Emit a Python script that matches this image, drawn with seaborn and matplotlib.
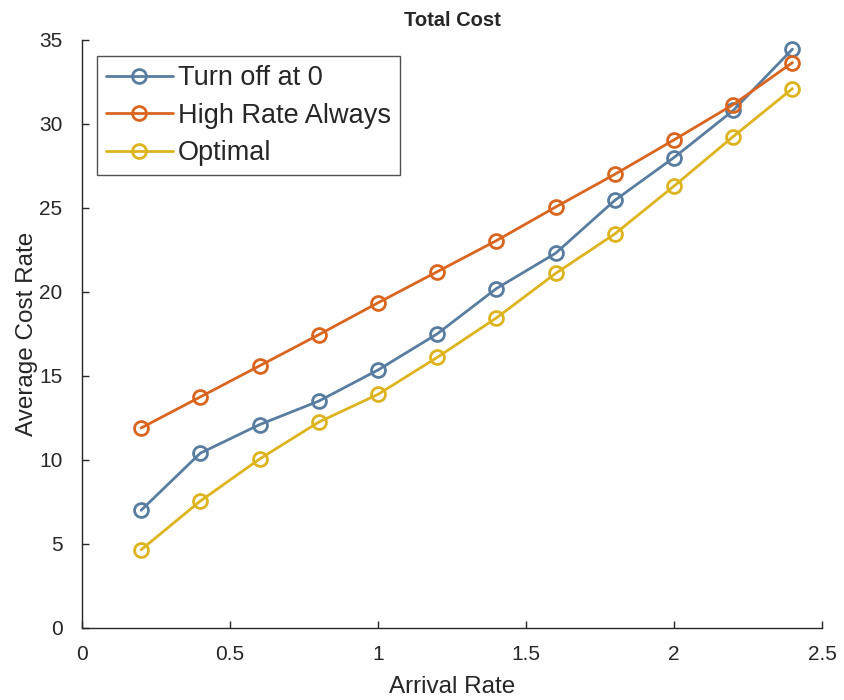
import pandas as pd
import seaborn as sns
import matplotlib.pyplot as plt

# data
arrival_rate = [0.2, 0.4, 0.6, 0.8, 1.0, 1.2, 1.4, 1.6, 1.8, 2.0, 2.2, 2.4]
turn_off = [7.0, 10.4, 12.1, 13.5, 15.35, 17.5, 20.2, 22.3, 25.45, 28.0, 30.8, 34.45]
high_rate = [11.9, 13.75, 15.6, 17.45, 19.35, 21.2, 23.05, 25.05, 27.0, 29.05, 31.15, 33.65]
optimal = [4.65, 7.55, 10.05, 12.25, 13.9, 16.1, 18.45, 21.1, 23.45, 26.3, 29.25, 32.1]

series_names = ["Turn off at 0", "High Rate Always", "Optimal"]
colors = ["#587DA0", "#D9651F", "#DDB41E"]

df = pd.DataFrame({
    "Arrival Rate": arrival_rate * 3,
    "Average Cost Rate": turn_off + high_rate + optimal,
    "method": [n for n in series_names for _ in arrival_rate],
})

sns.set_theme(style="white")
plt.rcParams["font.family"] = ["Liberation Sans", "DejaVu Sans"]

fig = plt.figure(figsize=(8.44, 7.0), dpi=100)
ax = fig.add_axes([0.097, 0.103, 0.877, 0.84])

for name, col in zip(series_names, colors):
    sns.lineplot(
        data=df[df["method"] == name], x="Arrival Rate", y="Average Cost Rate",
        ax=ax, color=col, label=name, marker="o", markersize=10,
        markerfacecolor="none", markeredgecolor=col, markeredgewidth=2,
        linewidth=2,
    )

ax.set_xlim(0, 2.5)
ax.set_ylim(0, 35)
ax.set_xticks([0, 0.5, 1, 1.5, 2, 2.5])
ax.set_xticklabels(["0", "0.5", "1", "1.5", "2", "2.5"])
ax.set_yticks(range(0, 36, 5))
ax.tick_params(direction="in", length=5, width=1, colors="#262626", labelsize=15,
               bottom=True, left=True)
ax.tick_params(axis="x", pad=12)
ax.tick_params(axis="y", pad=14)
for s in ["top", "right"]:
    ax.spines[s].set_visible(False)
for s in ["left", "bottom"]:
    ax.spines[s].set_color("#262626")
    ax.spines[s].set_linewidth(1)

ax.set_xlabel("Arrival Rate", fontsize=17.5, color="#262626", labelpad=9)
ax.set_ylabel("Average Cost Rate", fontsize=17.5, color="#262626", labelpad=1)
ax.set_title("Total Cost", fontsize=14.5, fontweight="bold", pad=10)

leg = ax.legend(loc="upper left", bbox_to_anchor=(0.02, 0.973), fontsize=19.5,
                frameon=True, fancybox=False, edgecolor="#262626",
                handlelength=2.45, borderpad=0.35, labelspacing=0.42,
                handletextpad=0.2, borderaxespad=0)
leg.get_frame().set_linewidth(1)

fig.savefig("out.png", dpi=100)
